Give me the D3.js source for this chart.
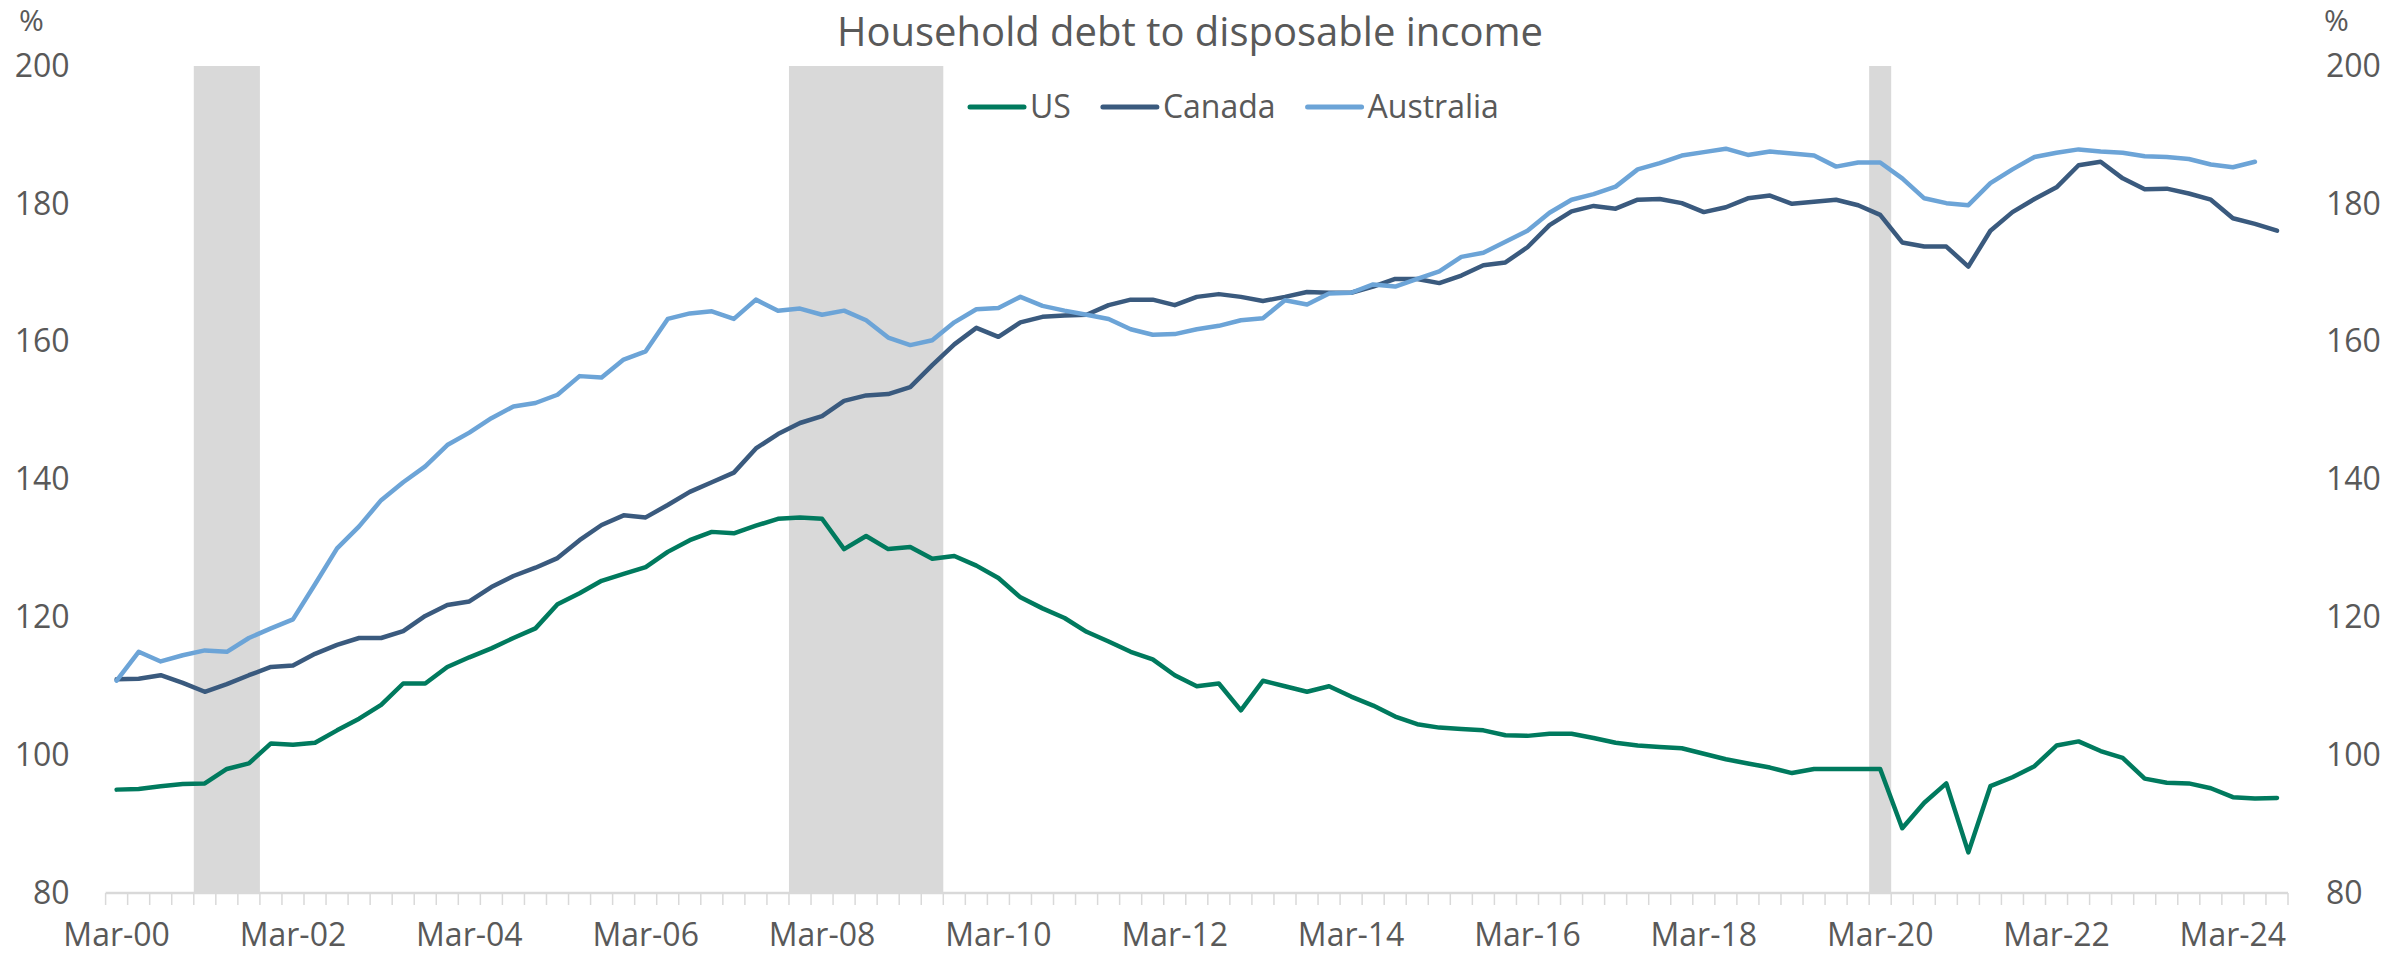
<!DOCTYPE html>
<html>
<head>
<meta charset="utf-8">
<script src="https://cdn.jsdelivr.net/npm/d3@7"></script>
<style>
  html, body { margin: 0; padding: 0; background: #ffffff; }
  svg { display: block; }
  text { font-family: "Segoe UI", "Open Sans", "Noto Sans", sans-serif; fill: #595959; }
</style>
</head>
<body>
<svg id="chart" width="2386" height="962"></svg>
<script>
// ---------------- DATA ----------------
const startYear = 2000;
const quarterMonths = ["Mar", "Jun", "Sep", "Dec"];
const quarterCount = 99; // Mar-00 .. Sep-24

const usValues = [
  95.0, 95.1, 95.5, 95.8, 95.9, 98.0, 98.8, 101.7, 101.5, 101.8,
  103.6, 105.3, 107.3, 110.4, 110.4, 112.8, 114.2, 115.5, 117.0, 118.4,
  121.9, 123.5, 125.3, 126.3, 127.3, 129.5, 131.2, 132.4, 132.2, 133.3,
  134.3, 134.5, 134.3, 129.9, 131.8, 129.9, 130.2, 128.5, 128.9, 127.5,
  125.7, 122.9, 121.3, 119.9, 117.9, 116.5, 115.0, 113.9, 111.6, 110.0,
  110.4, 106.5, 110.8, 110.0, 109.2, 110.0, 108.5, 107.2, 105.6, 104.5,
  104.0, 103.8, 103.6, 102.9, 102.8, 103.1, 103.1, 102.5, 101.8, 101.4,
  101.2, 101.0, 100.2, 99.4, 98.8, 98.2, 97.4, 98.0, 98.0, 98.0,
  98.0, 89.4, 93.1, 95.9, 85.9, 95.5, 96.8, 98.4, 101.4, 102.0,
  100.6, 99.6, 96.6, 96.0, 95.9, 95.2, 93.9, 93.7, 93.8
];

const canadaValues = [
  111.0, 111.1, 111.6, 110.5, 109.2, 110.3, 111.6, 112.8, 113.0, 114.7,
  116.0, 117.0, 117.0, 118.0, 120.2, 121.8, 122.3, 124.4, 126.0, 127.2,
  128.6, 131.2, 133.4, 134.8, 134.5, 136.3, 138.2, 139.6, 141.0, 144.5,
  146.6, 148.2, 149.2, 151.4, 152.2, 152.4, 153.4, 156.6, 159.6, 162.0,
  160.7, 162.8, 163.6, 163.8, 163.9, 165.3, 166.1, 166.1, 165.3, 166.5,
  166.9, 166.5, 165.9, 166.5, 167.2, 167.1, 167.1, 168.0, 169.1, 169.1,
  168.5, 169.6, 171.1, 171.5, 173.7, 176.9, 178.9, 179.7, 179.3, 180.6,
  180.7, 180.1, 178.8, 179.5, 180.8, 181.2, 180.0, 180.3, 180.6, 179.8,
  178.4, 174.4, 173.8, 173.8, 170.9, 176.1, 178.8, 180.7, 182.4, 185.6,
  186.1, 183.7, 182.1, 182.2, 181.5, 180.6, 177.9, 177.1, 176.1
];

const australiaValues = [
  110.8, 115.0, 113.6, 114.5, 115.2, 115.0, 117.0, 118.4, 119.7, 124.8,
  130.0, 133.2, 137.0, 139.6, 141.9, 145.0, 146.8, 148.9, 150.6, 151.1,
  152.3, 155.0, 154.8, 157.4, 158.6, 163.3, 164.1, 164.4, 163.3, 166.1,
  164.5, 164.8, 163.9, 164.5, 163.1, 160.6, 159.5, 160.2, 162.8, 164.7,
  164.9, 166.5, 165.2, 164.5, 163.9, 163.3, 161.8, 161.0, 161.1, 161.8,
  162.3, 163.1, 163.4, 166.0, 165.4, 167.0, 167.1, 168.3, 168.0, 169.1,
  170.2, 172.3, 172.9, 174.5, 176.1, 178.7, 180.6, 181.4, 182.5, 185.0,
  185.9, 187.0, 187.5, 188.0, 187.1, 187.6, 187.3, 187.0, 185.4, 186.0,
  186.0, 183.7, 180.8, 180.1, 179.8, 183.0, 185.0, 186.8, 187.4, 187.9,
  187.6, 187.4, 186.9, 186.8, 186.5, 185.7, 185.3, 186.1
];

const seriesNames = ["US", "Canada", "Australia"];
const seriesColors = ["#007a5e", "#3a5a7e", "#6ca4d7"];

const xTickLabels = ["Mar-00", "Mar-02", "Mar-04", "Mar-06", "Mar-08", "Mar-10",
                     "Mar-12", "Mar-14", "Mar-16", "Mar-18", "Mar-20", "Mar-22", "Mar-24"];
const yTickValues = [80, 100, 120, 140, 160, 180, 200];

// recession periods (first and last quarter shaded)
const recessionStarts = ["Mar-01", "Dec-07", "Mar-20"];
const recessionEnds   = ["Sep-01", "Jun-09", "Mar-20"];

const titleText = "Household debt to disposable income";
const unitText = "%";

// categories
const categories = [];
for (let k = 0; k < quarterCount; k++) {
  const yr = startYear + Math.floor(k / 4);
  categories.push(quarterMonths[k % 4] + "-" + String(yr % 100).padStart(2, "0"));
}

// ---------------- LAYOUT ----------------
const plot = { left: 105.6, right: 2288, top: 66, bottom: 893 };
const fontTick = 32;
const gridColor = "#d9d9d9";
const textColor = "#595959";
const fontFam = '"Segoe UI", "Open Sans", "Noto Sans", sans-serif';

const svg = d3.select("#chart");

const x = d3.scaleBand().domain(categories).range([plot.left, plot.right]).paddingInner(0).paddingOuter(0);
const y = d3.scaleLinear().domain([80, 200]).range([plot.bottom, plot.top]);
const cx = c => x(c) + x.bandwidth() / 2;

// recession bands
const bands = recessionStarts.map((s, i) => ({ s, e: recessionEnds[i] }));
svg.append("g").selectAll("rect").data(bands).join("rect")
  .attr("x", d => x(d.s))
  .attr("width", d => x(d.e) + x.bandwidth() - x(d.s))
  .attr("y", y(200))
  .attr("height", y(80) - y(200))
  .attr("fill", "#d9d9d9");

// bottom axis
const xAxisG = svg.append("g").attr("transform", `translate(0,${plot.bottom})`);
xAxisG.append("line")
  .attr("x1", plot.left).attr("x2", plot.right)
  .attr("y1", 0).attr("y2", 0)
  .attr("stroke", gridColor).attr("stroke-width", 2.5);
const tickPositions = categories.map(c => x(c)).concat([x(categories[categories.length - 1]) + x.bandwidth()]);
xAxisG.selectAll("line.tick").data(tickPositions).join("line")
  .attr("class", "tick")
  .attr("x1", d => d).attr("x2", d => d)
  .attr("y1", 0).attr("y2", 12)
  .attr("stroke", gridColor).attr("stroke-width", 1.5);
xAxisG.selectAll("text").data(xTickLabels).join("text")
  .attr("x", d => cx(d))
  .attr("y", 53)
  .attr("text-anchor", "middle")
  .style("font-size", fontTick + "px")
  .text(d => d);

// left axis
const leftAxis = svg.append("g")
  .attr("transform", `translate(${plot.left},0)`)
  .call(d3.axisLeft(y).tickValues(yTickValues).tickSize(0).tickPadding(36).tickFormat(d3.format("d")));
leftAxis.select(".domain").remove();
leftAxis.selectAll("text").style("font-size", fontTick + "px").attr("fill", textColor)
  .style("font-family", fontFam);

// right axis
const rightAxis = svg.append("g")
  .attr("transform", `translate(${plot.right},0)`)
  .call(d3.axisRight(y).tickValues(yTickValues).tickSize(0).tickPadding(38).tickFormat(d3.format("d")));
rightAxis.select(".domain").remove();
rightAxis.selectAll("text").style("font-size", fontTick + "px").attr("fill", textColor)
  .style("font-family", fontFam);

// unit labels
svg.append("text").attr("x", 19).attr("y", 31).style("font-size", "30px").text(unitText);
svg.append("text").attr("x", 2324).attr("y", 31).style("font-size", "30px").text(unitText);

// lines
const seriesData = [usValues, canadaValues, australiaValues];
const line = d3.line()
  .x((d, i) => cx(categories[i]))
  .y(d => y(d));
svg.append("g").selectAll("path").data(seriesData).join("path")
  .attr("d", d => line(d))
  .attr("fill", "none")
  .attr("stroke", (d, i) => seriesColors[i])
  .attr("stroke-width", 4.5)
  .attr("stroke-linejoin", "round")
  .attr("stroke-linecap", "round");

// title
svg.append("text")
  .attr("x", 1190).attr("y", 46)
  .attr("text-anchor", "middle")
  .style("font-size", "40px")
  .text(titleText);

// legend
const legend = svg.append("g");
let lx = 970;
const ly = 107;
seriesNames.forEach((name, i) => {
  legend.append("line")
    .attr("x1", lx).attr("x2", lx + 54)
    .attr("y1", ly).attr("y2", ly)
    .attr("stroke", seriesColors[i]).attr("stroke-width", 5)
    .attr("stroke-linecap", "round");
  const t = legend.append("text")
    .attr("x", lx + 60).attr("y", ly + 11)
    .style("font-size", fontTick + "px")
    .text(name);
  lx = lx + 60 + t.node().getComputedTextLength() + 32;
});
</script>
</body>
</html>
